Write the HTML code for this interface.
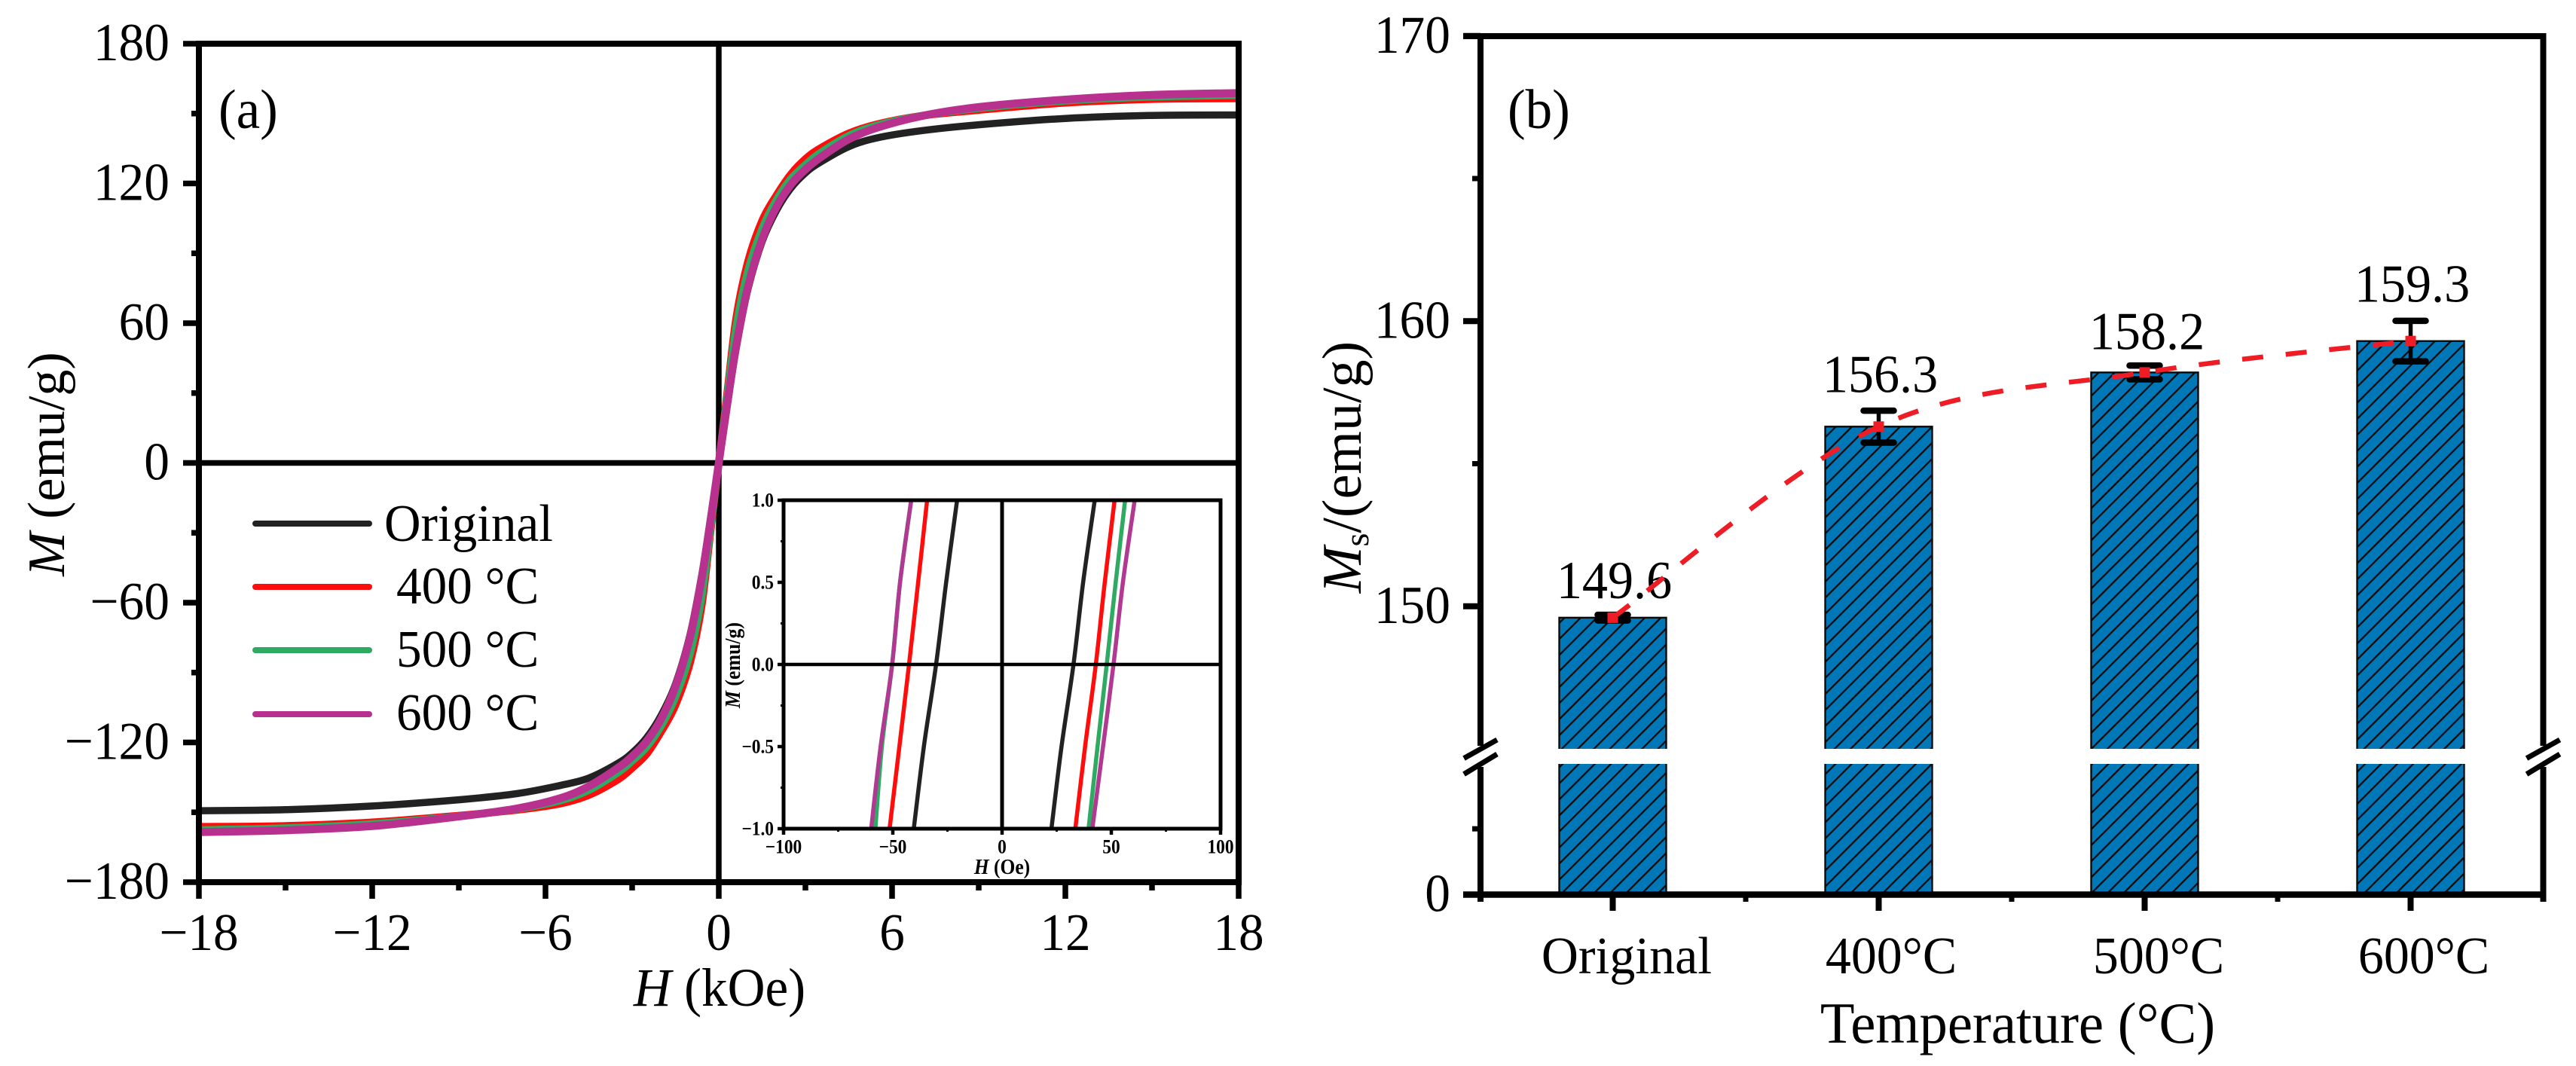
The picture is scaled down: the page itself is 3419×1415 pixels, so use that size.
<!DOCTYPE html>
<html lang="en">
<head>
<meta charset="utf-8">
<title>Magnetic hysteresis and saturation magnetization</title>
<style>
html,body{margin:0;padding:0;background:#fff;width:3419px;height:1415px;overflow:hidden}
svg{display:block}
text{font-family:"Liberation Serif",serif;fill:#000}
</style>
</head>
<body>
<svg id="figure" xmlns="http://www.w3.org/2000/svg" width="3419" height="1415" viewBox="0 0 3419 1415">
  <defs>
    <pattern id="hatch" patternUnits="userSpaceOnUse" width="15.06" height="15.06" patternTransform="rotate(45) translate(-7.53,0)">
      <line x1="7.53" y1="0" x2="7.53" y2="15.06" stroke="#0a0a0a" stroke-width="2.3"/>
    </pattern>
  </defs>
  <g id="panel-a">
    <text transform="translate(290,170) scale(0.96,1)" font-size="74">(a)</text>
    <text transform="translate(955,1335) scale(0.96,1)" font-size="72" text-anchor="middle"><tspan font-style="italic">H</tspan> (kOe)</text>
    <text transform="translate(85,616) rotate(-90)" font-size="70" text-anchor="middle"><tspan font-style="italic">M</tspan> (emu/g)</text>
    <g id="a-grid"></g>
    <g id="a-curves"></g>
    <g id="a-frame"></g>
    <g>
      <g>
        <line x1="339" y1="695" x2="490" y2="695" stroke="#222" stroke-width="8" stroke-linecap="round"/>
        <text transform="translate(510,718) scale(0.96,1)" font-size="70">Original</text>
      </g>
      <g>
        <line x1="339" y1="779" x2="490" y2="779" stroke="#ff0d0d" stroke-width="8" stroke-linecap="round"/>
        <text transform="translate(526,801) scale(0.96,1)" font-size="70">400 °C</text>
      </g>
      <g>
        <line x1="339" y1="863" x2="490" y2="863" stroke="#2eaa62" stroke-width="8" stroke-linecap="round"/>
        <text transform="translate(526,885) scale(0.96,1)" font-size="70">500 °C</text>
      </g>
      <g>
        <line x1="339" y1="948" x2="490" y2="948" stroke="#b8318f" stroke-width="8" stroke-linecap="round"/>
        <text transform="translate(526,969) scale(0.96,1)" font-size="70">600 °C</text>
      </g>
    </g>
    <g id="inset">
      <g id="inset-curves"></g>
      <g id="inset-frame"></g>
      <text transform="translate(1330,1160) scale(0.88,1)" font-size="29" font-weight="bold" text-anchor="middle"><tspan font-style="italic">H</tspan> (Oe)</text>
      <text transform="translate(982,883) rotate(-90)" font-size="29" font-weight="bold" text-anchor="middle" textLength="114" lengthAdjust="spacingAndGlyphs"><tspan font-style="italic">M</tspan> (emu/g)</text>
    </g>
  </g>
  <g id="panel-b">
    <text transform="translate(2001,170) scale(0.96,1)" font-size="74">(b)</text>
    <text transform="translate(2678,1384) scale(0.97,1)" font-size="77" text-anchor="middle">Temperature (°C)</text>
    <text transform="translate(1806,620) rotate(-90)" font-size="74" text-anchor="middle"><tspan font-style="italic">M</tspan><tspan font-size="46" dy="10">s</tspan><tspan dy="-10">/(emu/g)</tspan></text>
    <g id="b-bars"></g>
    <g id="b-frame"></g>
    <g id="b-overlay"></g>
  </g>
</svg>
<script>
// ---------- Panel (a) data ----------
const fieldKOe = [-18,-15,-12,-9,-7,-5.5,-4.5,-3.5,-3,-2.5,-2,-1.5,-1,-0.6,-0.3,0,0.3,0.6,1,1.5,2,2.5,3,3.5,4.5,5.5,7,9,12,15,18];
const mOriginal = [-149.3,-148.9,-147.3,-144.6,-142,-138.5,-135.3,-129,-124.5,-118,-108.5,-95,-74,-49,-25,0,25,49,74,95,108.5,118,124.5,129,135.8,139.6,142.6,145.2,147.9,149.2,149.4];
const m400 = [-156.2,-155.8,-154.3,-151.4,-149,-146.3,-142.6,-136,-131,-125,-115.5,-104,-86,-62,-31,0,31,62,86,104,115,124,130.5,135,141.5,145.5,149,151.5,154.6,156.2,156.5];
const m500 = [-157.6,-156.8,-155,-151.7,-148.6,-145,-140.5,-133,-128,-122,-113,-100.5,-82,-58,-29,0,29,58,82,100.5,113,122,128,133,140.5,145,149,152.3,155.5,157.2,157.9];
const m600 = [-158.5,-157.7,-155.9,-151.8,-148.4,-144,-138.8,-131,-126,-119.5,-110,-96,-75,-50,-26,0,26,50,75,96,110,119.5,126,131,139,144,148.9,152.8,156,158,158.8];
const aXTicks = [-18,-12,-6,0,6,12,18];
const aXMinor = [-15,-9,-3,3,9,15];
const aYTicks = [-180,-120,-60,0,60,120,180];
const aYMinor = [-150,-90,-30,30,90,150];

// ---------- Inset data ----------
const insetM = [-1,-0.5,0,0.5,1];
const insetOriginalLeft = [-40.4,-35.8,-30.2,-25.6,-20.6];
const insetOriginalRight = [22.6,27.2,32.7,37.1,42.4];
const inset400Left = [-51.5,-47,-42.6,-38.4,-34.3];
const inset400Right = [33.5,38,42.9,47,51.5];
const inset500Left = [-58,-55,-50.3,-46.7,-41.6];
const inset500Right = [39.6,43.7,47.9,52,56.3];
const inset600Left = [-59.9,-55.6,-50.3,-46.7,-41.6];
const inset600Right = [41.3,46.2,51,55.3,60.7];
const insetXTicks = [-100,-50,0,50,100];
const insetXMinor = [-75,-25,25,75];
const insetYTicks = [-1,-0.5,0,0.5,1];
const insetYMinor = [-0.75,-0.25,0.25,0.75];

// ---------- Panel (b) data ----------
const categories = ['Original','400°C','500°C','600°C'];
const msValues = [149.6,156.3,158.2,159.3];
const msErrors = [0.1,0.56,0.24,0.71];
const bYTicks = [0,150,160,170];
const bYMinor = [73,155,165];

const NS = 'http://www.w3.org/2000/svg';
function mk(tag, attrs, parent, txt){
  const e = document.createElementNS(NS, tag);
  for (const k in attrs) e.setAttribute(k, attrs[k]);
  if (txt !== undefined) e.textContent = txt;
  parent.appendChild(e);
  return e;
}
function tf(x, y, sx){ return 'translate(' + x + ',' + y + ') scale(' + sx + ',1)'; }
function fmtMinus(v, digits){
  const s = digits ? Math.abs(v).toFixed(digits) : String(Math.abs(v));
  return (v < 0 ? '\u2212' : '') + s;
}
function spline(pts){
  let d = 'M' + pts[0][0].toFixed(1) + ' ' + pts[0][1].toFixed(1);
  for (let i = 0; i < pts.length - 1; i++){
    const p0 = pts[Math.max(0, i - 1)], p1 = pts[i], p2 = pts[i + 1], p3 = pts[Math.min(pts.length - 1, i + 2)];
    const c1 = [p1[0] + (p2[0] - p0[0]) / 6, p1[1] + (p2[1] - p0[1]) / 6];
    const c2 = [p2[0] - (p3[0] - p1[0]) / 6, p2[1] - (p3[1] - p1[1]) / 6];
    d += 'C' + c1[0].toFixed(1) + ' ' + c1[1].toFixed(1) + ' ' + c2[0].toFixed(1) + ' ' + c2[1].toFixed(1) + ' ' + p2[0].toFixed(1) + ' ' + p2[1].toFixed(1);
  }
  return d;
}

// ---------- Panel (a) axes ----------
const aL = 264, aR = 1644, aT = 58, aB = 1171;
const ax = h => aL + (h + 18) / 36 * (aR - aL);
const ay = m => aB - (m + 180) / 360 * (aB - aT);
const aGrid = document.getElementById('a-grid');
const aFrame = document.getElementById('a-frame');

const aZeroV = mk('line', {x1: ax(0), y1: aT, x2: ax(0), y2: aB, stroke: '#000', 'stroke-width': 7.5}, aGrid);


const aZeroH = mk('line', {x1: aL, y1: ay(0), x2: aR, y2: ay(0), stroke: '#000', 'stroke-width': 7.5}, aGrid);



const aBox = mk('path', {d: 'M' + aL + ' ' + aT + 'H' + aR + 'V' + aB + 'H' + aL + 'Z', fill: 'none', stroke: '#000', 'stroke-width': 8, 'stroke-linejoin': 'miter'}, aFrame);



aXTicks.forEach(function(v){
  const t = mk('line', {x1: ax(v), y1: aB, x2: ax(v), y2: aB + 22, stroke: '#000', 'stroke-width': 7.5}, aFrame);
  
  
  const l = mk('text', {transform: tf(ax(v), 1261, 0.96), 'font-size': 70, 'text-anchor': 'middle'}, aFrame, fmtMinus(v));
  
  
});
aXMinor.forEach(function(v){
  const t = mk('line', {x1: ax(v), y1: aB, x2: ax(v), y2: aB + 11, stroke: '#000', 'stroke-width': 7.5}, aFrame);
  
  
});
aYTicks.forEach(function(v){
  const t = mk('line', {x1: aL - 21, y1: ay(v), x2: aL, y2: ay(v), stroke: '#000', 'stroke-width': 7.5}, aFrame);
  
  
  const l = mk('text', {transform: tf(225, ay(v) + 22, 0.95), 'font-size': 71, 'text-anchor': 'end'}, aFrame, fmtMinus(v));
  
  
});
aYMinor.forEach(function(v){
  const t = mk('line', {x1: aL - 10, y1: ay(v), x2: aL, y2: ay(v), stroke: '#000', 'stroke-width': 7.5}, aFrame);
  
  
});

// ---------- Panel (a) curves ----------
const aCurves = document.getElementById('a-curves');
function curvePts(values){ return fieldKOe.map(function(h, i){ return [ax(h), ay(values[i])]; }); }
const cOriginal = mk('path', {d: spline(curvePts(mOriginal)), fill: 'none', stroke: '#222', 'stroke-width': 9.5}, aCurves);


const c400 = mk('path', {d: spline(curvePts(m400)), fill: 'none', stroke: '#ff0d0d', 'stroke-width': 10}, aCurves);


const c500 = mk('path', {d: spline(curvePts(m500)), fill: 'none', stroke: '#2eaa62', 'stroke-width': 10}, aCurves);


const c600 = mk('path', {d: spline(curvePts(m600)), fill: 'none', stroke: '#b8318f', 'stroke-width': 10.5}, aCurves);



// ---------- Inset ----------
const iL = 1040, iR = 1620, iT = 664, iB = 1100;
const ix = h => iL + (h + 100) / 200 * (iR - iL);
const iy = m => iB - (m + 1) / 2 * (iB - iT);
const iFrame = document.getElementById('inset-frame');
const iCurves = document.getElementById('inset-curves');

const iZeroV = mk('line', {x1: ix(0), y1: iT, x2: ix(0), y2: iB, stroke: '#000', 'stroke-width': 5}, iFrame);


const iZeroH = mk('line', {x1: iL, y1: iy(0), x2: iR, y2: iy(0), stroke: '#000', 'stroke-width': 4.5}, iFrame);


const iBox = mk('rect', {x: iL, y: iT, width: iR - iL, height: iB - iT, fill: 'none', stroke: '#000', 'stroke-width': 5}, iFrame);



insetXTicks.forEach(function(v){
  const t = mk('line', {x1: ix(v), y1: iB, x2: ix(v), y2: iB + 8, stroke: '#000', 'stroke-width': 4.5}, iFrame);
  
  
  const l = mk('text', {transform: tf(ix(v), 1132.5, 0.9), 'font-size': 26, 'font-weight': 'bold', 'text-anchor': 'middle'}, iFrame, fmtMinus(v));
  
  
});
insetXMinor.forEach(function(v){
  const t = mk('line', {x1: ix(v), y1: iB, x2: ix(v), y2: iB + 4, stroke: '#000', 'stroke-width': 3}, iFrame);
  
  
});
insetYTicks.forEach(function(v){
  const t = mk('line', {x1: iL - 8, y1: iy(v), x2: iL, y2: iy(v), stroke: '#000', 'stroke-width': 4.5}, iFrame);
  
  
  const l = mk('text', {transform: tf(1027, iy(v) + 8.5, 0.9), 'font-size': 26, 'font-weight': 'bold', 'text-anchor': 'end'}, iFrame, fmtMinus(v, 1));
  
  
});
insetYMinor.forEach(function(v){
  const t = mk('line', {x1: iL - 4, y1: iy(v), x2: iL, y2: iy(v), stroke: '#000', 'stroke-width': 3}, iFrame);
  
  
});

function insetPts(values){ return insetM.map(function(m, i){ return [ix(values[i]), iy(m)]; }); }
const iSeries = [
  [insetOriginalLeft, '#222'], [insetOriginalRight, '#222'],
  [inset400Left, '#ff0d0d'], [inset400Right, '#ff0d0d'],
  [inset500Left, '#2eaa62'], [inset500Right, '#2eaa62'],
  [inset600Left, '#b03a92'], [inset600Right, '#b03a92']
];
iSeries.forEach(function(s){
  const p = mk('path', {d: spline(insetPts(s[0])), fill: 'none', stroke: s[1], 'stroke-width': 5.5}, iCurves);
  
  
});

// ---------- Panel (b) axes ----------
const bL = 1965, bR = 3375.5, bT = 48, bB = 1187.5, breakHi = 994, breakLo = 1014, breakVal = 145;
const bx = i => 2140.5 + 353 * i;
const by = v => v >= breakVal ? breakHi - (v - breakVal) * 37.85 : bB - v / breakVal * (bB - breakLo);
const bBars = document.getElementById('b-bars');
const bFrame = document.getElementById('b-frame');
const bOverlay = document.getElementById('b-overlay');
const barW = 142;

msValues.forEach(function(v, i){
  const base = mk('rect', {x: bx(i) - barW / 2, y: by(v), width: barW, height: bB - by(v), fill: '#0077b7'}, bBars);
  
  
  const hatch = mk('rect', {x: bx(i) - barW / 2, y: by(v), width: barW, height: bB - by(v), fill: 'url(#hatch)', stroke: '#0a0a0a', 'stroke-width': 2.4}, bBars);
  
  
  const gap = mk('rect', {x: bx(i) - barW / 2 - 3, y: breakHi, width: barW + 6, height: breakLo - breakHi, fill: '#fff'}, bBars);
  
  
  const tk = mk('line', {x1: bx(i), y1: bB, x2: bx(i), y2: 1209, stroke: '#000', 'stroke-width': 8}, bFrame);
  
  
  const lbl = mk('text', {transform: tf([2159, 2510, 2865, 3217][i], 1292, 0.97), 'font-size': 70, 'text-anchor': 'middle'}, bFrame, categories[i]);
  
  
  if (i < msValues.length - 1){
    const mn = mk('line', {x1: bx(i + 0.5), y1: bB, x2: bx(i + 0.5), y2: 1197, stroke: '#000', 'stroke-width': 7}, bFrame);
    
    
  }
});

const bTop = mk('line', {x1: bL - 23, y1: bT, x2: bR + 4, y2: bT, stroke: '#000', 'stroke-width': 8}, bFrame);


const bBottom = mk('line', {x1: bL - 23, y1: bB, x2: bR + 4, y2: bB, stroke: '#000', 'stroke-width': 8.5}, bFrame);


[bL, bR].forEach(function(x){
  const up = mk('line', {x1: x, y1: bT, x2: x, y2: breakHi - 4, stroke: '#000', 'stroke-width': 8}, bFrame);
  
  
  const low = mk('line', {x1: x, y1: breakLo + 4, x2: x, y2: 1197, stroke: '#000', 'stroke-width': 8}, bFrame);
  
  
  const s1 = mk('line', {x1: x - 22, y1: 1006.6, x2: x + 22, y2: 982, stroke: '#000', 'stroke-width': 7}, bFrame);
  
  
  const s2 = mk('line', {x1: x - 22, y1: 1027.6, x2: x + 22, y2: 1001, stroke: '#000', 'stroke-width': 7}, bFrame);
  
  
});
bYTicks.forEach(function(v){
  const t = mk('line', {x1: bL - 23, y1: by(v), x2: bL, y2: by(v), stroke: '#000', 'stroke-width': 8}, bFrame);
  
  
  const l = mk('text', {transform: tf(1925, by(v) + 22, 0.95), 'font-size': 71, 'text-anchor': 'end'}, bFrame, String(v));
  
  
});
bYMinor.forEach(function(v){
  const t = mk('line', {x1: bL - 11, y1: by(v), x2: bL, y2: by(v), stroke: '#000', 'stroke-width': 7}, bFrame);
  
  
});

// ---------- Panel (b) overlay ----------
msValues.forEach(function(v, i){
  const e = msErrors[i];
  const stem = mk('line', {x1: bx(i), y1: by(v + e), x2: bx(i), y2: by(v - e), stroke: '#000', 'stroke-width': 5.5}, bOverlay);
  
  
  const capT = mk('line', {x1: bx(i) - 20, y1: by(v + e), x2: bx(i) + 20, y2: by(v + e), stroke: '#000', 'stroke-width': 8.5, 'stroke-linecap': 'round'}, bOverlay);
  
  
  const capB = mk('line', {x1: bx(i) - 20, y1: by(v - e), x2: bx(i) + 20, y2: by(v - e), stroke: '#000', 'stroke-width': 8.5, 'stroke-linecap': 'round'}, bOverlay);
  
  
  const lbl = mk('text', {transform: tf(bx(i) + [2, 2, 3, 2][i], by(v) - [26, 46, 31, 52][i], 0.96), 'font-size': 71, 'text-anchor': 'middle'}, bOverlay, v.toFixed(1));
  
  
});
const trend = mk('path', {d: spline(msValues.map(function(v, i){ return [bx(i), by(v)]; })), fill: 'none', stroke: '#ee1c25', 'stroke-width': 6.5, 'stroke-dasharray': '28 30'}, bOverlay);


msValues.forEach(function(v, i){
  const m = mk('rect', {x: bx(i) - 7, y: by(v) - 7, width: 14, height: 14, fill: '#ee1c25'}, bOverlay);
  
  
});
</script>
</body>
</html>
